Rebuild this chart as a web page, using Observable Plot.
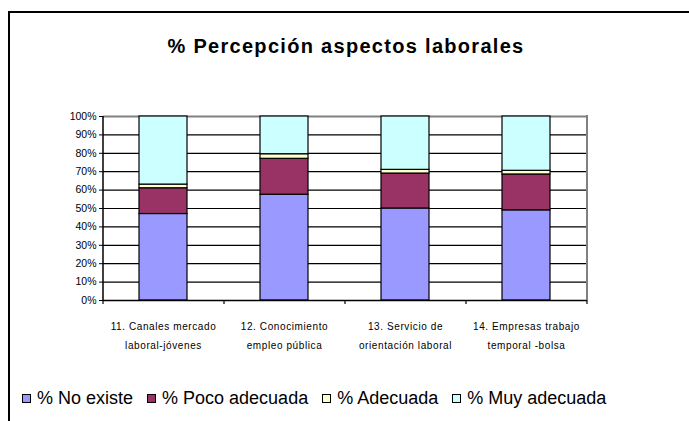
<!DOCTYPE html>
<html>
<head>
<meta charset="utf-8">
<script src="https://cdn.jsdelivr.net/npm/d3@7"></script>
<script src="https://cdn.jsdelivr.net/npm/@observablehq/plot@0.6"></script>
<style>
  html, body { margin: 0; padding: 0; width: 689px; height: 421px; overflow: hidden; background: #fff; font-family: Arial, "Liberation Sans", sans-serif; }
  #frame { position: absolute; left: 8px; top: 11px; width: 720px; height: 440px; border: 2px solid #000; box-sizing: border-box; }
  #title { position: absolute; left: 0; top: 34px; width: 692px; text-align: center; font-size: 20px; font-weight: bold; letter-spacing: 1.3px; line-height: 24px; color: #000; }
  #chart { position: absolute; left: 0; top: 0; }
  #legend { position: absolute; left: 22px; top: 387px; display: flex; align-items: center; font-size: 18px; line-height: 22px; color: #000; }
  .item { display: flex; align-items: center; margin-right: 14px; }
  .sw { width: 9px; height: 9px; border: 1px solid #000; box-sizing: border-box; margin-right: 6px; }
  #chart svg text tspan { letter-spacing: 0.6px; }
</style>
</head>
<body>
<div id="frame"></div>
<div id="chart"></div>
<div id="title">% Percepción aspectos laborales</div>
<div id="legend"></div>
<script>
const categories = [
  "11. Canales mercado\nlaboral-jóvenes",
  "12. Conocimiento\nempleo pública",
  "13. Servicio de\norientación laboral",
  "14. Empresas trabajo\ntemporal -bolsa"
];
const series = ["% No existe", "% Poco adecuada", "% Adecuada", "% Muy adecuada"];
const noExiste     = [47, 57.5, 50, 49];
const pocoAdecuada = [14, 19.5, 19, 19.5];
const adecuada     = [2, 2.5, 2, 2];
const muyAdecuada  = [37, 20.5, 29, 29.5];
const colors = ["#9999FF", "#993366", "#FFFFCC", "#CCFFFF"];
const yTicks = [0, 10, 20, 30, 40, 50, 60, 70, 80, 90, 100];

const seriesValues = [noExiste, pocoAdecuada, adecuada, muyAdecuada];
const data = [];
categories.forEach((c, i) => {
  series.forEach((s, j) => data.push({cat: c, series: s, value: seriesValues[j][i]}));
});

// frame extras: left black axis line, right gray border, category boundary ticks
function extras(index, scales, values, dims) {
  const g = d3.create("svg:g");
  const left = dims.marginLeft, right = dims.width - dims.marginRight;
  const top = dims.marginTop, bottom = dims.height - dims.marginBottom;
  const step = (right - left) / categories.length;
  g.append("line").attr("x1", right).attr("x2", right).attr("y1", top - 1).attr("y2", bottom)
    .attr("stroke", "#808080").attr("stroke-width", 2);
  g.append("line").attr("x1", left).attr("x2", left).attr("y1", top).attr("y2", bottom + 1)
    .attr("stroke", "#000").attr("stroke-width", 1.5);
  d3.range(categories.length + 1).forEach(i => {
    const x = left + i * step;
    g.append("line").attr("x1", x).attr("x2", x).attr("y1", bottom).attr("y2", bottom + 4)
      .attr("stroke", "#000").attr("stroke-width", 1.2);
  });
  return g.node();
}

const chart = Plot.plot({
  width: 689,
  height: 360,
  marginLeft: 103,
  marginRight: 102,
  marginTop: 116,
  marginBottom: 60,
  x: {domain: categories, paddingInner: 0.6, paddingOuter: 0.3, axis: null},
  y: {domain: [0, 100], axis: null, label: null},
  color: {domain: series, range: colors},
  style: {fontFamily: "Arial, 'Liberation Sans', sans-serif", background: "transparent", color: "#000"},
  marks: [
    Plot.gridY(yTicks, {stroke: "#000", strokeOpacity: 1, strokeWidth: 1.2}),
    Plot.ruleY([100], {stroke: "#808080", strokeWidth: 2}),
    Plot.barY(data, {x: "cat", y: "value", fill: "series", stroke: "#000", strokeWidth: 1.2}),
    Plot.ruleY([0], {stroke: "#000", strokeWidth: 1.5}),
    extras,
    Plot.axisY(yTicks, {tickFormat: d => d + "%", tickSize: 4, tickPadding: 3, fontSize: 10.5, stroke: "#000", label: null}),
    Plot.text(categories, {x: d => d, text: d => d, frameAnchor: "bottom", lineAnchor: "top", dy: 16, lineHeight: 1.9, fontSize: 10, fill: "#000"})
  ]
});
document.getElementById("chart").appendChild(chart);

const legend = d3.select("#legend");
series.forEach((s, i) => {
  const it = legend.append("div").attr("class", "item");
  it.append("div").attr("class", "sw").style("background", colors[i]);
  it.append("span").text(s);
});
</script>
</body>
</html>
